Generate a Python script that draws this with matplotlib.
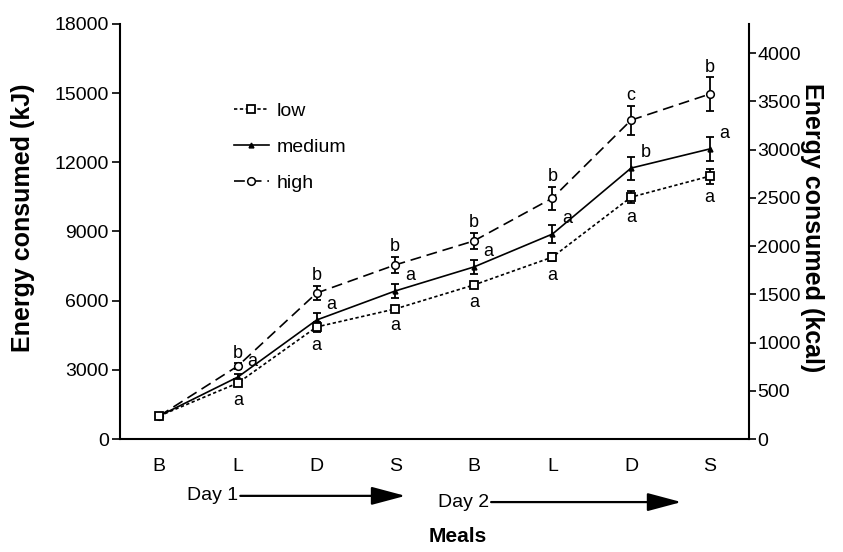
import matplotlib
matplotlib.use('Agg')
import matplotlib.pyplot as plt
import matplotlib.transforms as mtransforms
import numpy as np

plt.rcParams['font.family'] = ['Liberation Sans', 'DejaVu Sans']

# meals over two days
meals = ["B", "L", "D", "S", "B", "L", "D", "S"]

# energy consumed (kJ), means and error bars
low = [1000, 2430, 4860, 5640, 6680, 7890, 10490, 11400]
medium = [1000, 2690, 5160, 6420, 7460, 8890, 11750, 12580]
high = [1000, 3170, 6330, 7550, 8590, 10450, 13830, 14960]

low_err = [0, 150, 200, 130, 150, 180, 260, 325]
medium_err = [0, 120, 300, 300, 300, 400, 500, 540]
high_err = [0, 130, 320, 360, 360, 500, 630, 740]

# significance letters
low_sig = ["", "a", "a", "a", "a", "a", "a", "a"]
medium_sig = ["", "a", "a", "a", "a", "a", "b", "a"]
high_sig = ["", "b", "b", "b", "b", "b", "c", "b"]

KJ_PER_KCAL = 4.184

fig = plt.figure(figsize=(8.43, 5.52), dpi=100)
ax = fig.add_axes([120/843, 1 - 439/552, 629/843, 415/552])

x = np.arange(len(meals))

# error bars first, lines on top
for vals, errs in [(low, low_err), (medium, medium_err), (high, high_err)]:
	ax.errorbar(x, vals, yerr=errs, fmt='none', ecolor='black', elinewidth=1.3, capsize=3.2, capthick=1.3)

ax.plot(x, high, color='black', linewidth=1.2, dashes=(6.5, 3.5), marker='o', markersize=5.5,
	markerfacecolor='white', markeredgecolor='black', markeredgewidth=1.1, label='high')
ax.plot(x, medium, color='black', linewidth=1.2, marker='^', markersize=3.5,
	markerfacecolor='black', markeredgecolor='black', label='medium')
ax.plot(x, low, color='black', linewidth=1.2, dashes=(2, 1.5), marker='s', markersize=6,
	markerfacecolor='white', markeredgecolor='black', markeredgewidth=1.3, label='low')

# letters
for i in range(len(meals)):
	if high_sig[i]:
		ax.annotate(high_sig[i], (x[i], high[i] + high_err[i]), xytext=(0, 7), textcoords='offset points',
			ha='center', va='center', fontsize=13)
	if medium_sig[i]:
		ax.annotate(medium_sig[i], (x[i], medium[i]), xytext=(10.5, 11), textcoords='offset points',
			ha='center', va='center', fontsize=13)
	if low_sig[i]:
		ax.annotate(low_sig[i], (x[i], low[i] - low_err[i]), xytext=(0, -10), textcoords='offset points',
			ha='center', va='center', fontsize=13)

ax.set_xlim(-0.5, 7.5)
ax.set_ylim(0, 18000)
ax.set_yticks(np.arange(0, 18001, 3000))
ax.set_xticks(x)
ax.set_xticklabels(meals)

for s in ['top', 'right']:
	ax.spines[s].set_visible(False)
for s in ['left', 'bottom']:
	ax.spines[s].set_linewidth(1.5)

ax.tick_params(axis='y', direction='out', length=6, width=1.2, pad=2, labelsize=14)
ax.tick_params(axis='x', length=0, pad=14, labelsize=14)

ax2 = ax.twinx()
ax2.set_ylim(0, 18000 / KJ_PER_KCAL)
ax2.set_yticks(np.arange(0, 4001, 500))
for s in ['top', 'left', 'bottom']:
	ax2.spines[s].set_visible(False)
ax2.spines['right'].set_linewidth(1.5)
ax2.tick_params(axis='y', direction='out', length=5, width=1.2, pad=1, labelsize=14)

# legend in order low, medium, high
handles, labels = ax.get_legend_handles_labels()
order = [2, 1, 0]
ax.legend([handles[i] for i in order], [labels[i] for i in order], loc='upper left',
	bbox_to_anchor=(0.165, 0.835), frameon=False, fontsize=14, handlelength=1.8,
	handletextpad=0.4, labelspacing=0.95, numpoints=1, borderpad=0)

# Day arrows under the axis
trans = mtransforms.blended_transform_factory(ax.transData, ax.transAxes)
ax.annotate('', xy=(3.13, -0.137), xytext=(1.03, -0.137), xycoords=trans, textcoords=trans,
	annotation_clip=False,
	arrowprops=dict(arrowstyle='-|>,head_length=1.5,head_width=0.4', mutation_scale=14,
		color='black', linewidth=1.6, shrinkA=0, shrinkB=0))
ax.text(1.0, -0.137, 'Day 1', transform=trans, ha='right', va='center', fontsize=14)
ax.annotate('', xy=(6.64, -0.152), xytext=(4.22, -0.152), xycoords=trans, textcoords=trans,
	annotation_clip=False,
	arrowprops=dict(arrowstyle='-|>,head_length=1.5,head_width=0.4', mutation_scale=14,
		color='black', linewidth=1.6, shrinkA=0, shrinkB=0))
ax.text(4.19, -0.152, 'Day 2', transform=trans, ha='right', va='center', fontsize=14)

fig.text(458/843, 1 - 537/552, 'Meals', ha='center', va='center', fontsize=15, fontweight='bold')
fig.text(23/843, 1 - 218/552, 'Energy consumed (kJ)', ha='center', va='center', rotation=90,
	fontsize=18, fontweight='bold')
fig.text(812/843, 1 - 228/552, 'Energy consumed (kcal)', ha='center', va='center', rotation=-90,
	fontsize=18, fontweight='bold')

plt.savefig('out.png', dpi=100)
